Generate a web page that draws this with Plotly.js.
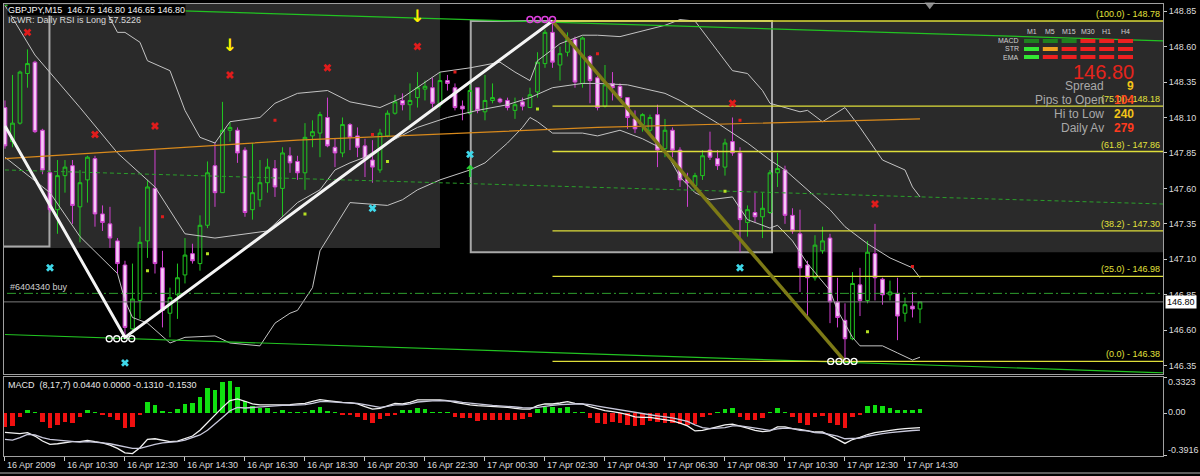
<!DOCTYPE html>
<html><head><meta charset="utf-8">
<script src="https://cdn.plot.ly/plotly-3.0.1.min.js"></script>
<style>html,body{margin:0;padding:0;background:#000;}#chart{width:1200px;height:476px;}</style>
</head><body><div id="chart"></div>
<script>
// ---------------- DATA ----------------
const symbolHeader = 'GBPJPY,M15  146.75 146.80 146.65 146.80';
const rsiHeader = 'ICWR: Daily RSI is Long 57.5226';
const macdHeader = 'MACD  (8,17,7) 0.0440 0.0000 -0.1310 -0.1530';
const orderLabel = '#6404340 buy';

const openP = [148.17,147.93,148.06,148.41,148.49,148.01,147.71,147.45,147.69,147.76,
147.47,147.66,147.81,147.42,147.35,147.23,147.06,146.61,146.81,147.23,
147.60,147.04,146.72,146.85,146.99,147.14,147.07,147.34,147.76,147.57,
148.01,148.01,147.87,147.45,147.52,147.64,147.74,147.60,147.83,147.79,
147.71,147.97,147.99,148.10,147.89,147.85,148.05,147.97,147.90,147.80,
147.73,147.97,148.13,148.22,148.19,148.24,148.30,148.31,148.19,148.36,
148.31,148.18,148.13,148.31,148.14,148.22,148.23,148.22,148.15,148.21,
148.17,148.28,148.48,148.70,148.47,148.56,148.65,148.34,148.53,148.38,
148.18,148.34,148.32,148.24,148.09,148.05,148.01,148.12,147.88,148.01,
147.87,147.67,147.62,147.69,147.87,147.81,147.75,147.93,147.85,147.36,
147.43,147.40,147.43,147.71,147.73,147.41,147.28,147.06,146.97,147.16,
147.25,146.80,146.67,146.54,146.92,146.81,147.14,146.96,146.85,146.86,
146.72,146.77,146.75];
const highP = [148.22,148.40,148.43,148.58,148.50,148.02,147.73,147.80,147.80,147.80,
147.73,147.83,147.83,147.48,147.47,147.25,147.09,147.07,147.33,147.66,
147.87,147.16,146.90,147.07,147.25,147.21,147.41,147.79,147.92,148.21,
148.07,148.03,147.89,147.92,147.80,147.81,147.80,147.89,147.89,147.83,
148.06,148.08,148.14,148.24,147.95,148.10,148.06,148.03,147.95,147.94,
148.02,148.15,148.26,148.27,148.34,148.42,148.36,148.38,148.42,148.40,
148.34,148.22,148.33,148.31,148.40,148.34,148.24,148.24,148.24,148.24,
148.31,148.56,148.72,148.78,148.60,148.70,148.67,148.67,148.54,148.41,
148.47,148.42,148.34,148.24,148.15,148.13,148.12,148.19,148.09,148.03,
147.89,147.71,147.71,147.87,148.00,147.87,147.95,148.10,147.89,147.48,
147.57,147.57,147.73,147.85,147.76,147.46,147.45,147.09,147.27,147.33,
147.28,146.97,146.79,147.01,147.04,147.23,147.35,146.97,146.95,146.97,
146.83,146.87,146.80];
const lowP = [147.88,147.89,148.05,148.31,147.99,147.70,147.43,147.28,147.57,147.35,
147.22,147.50,147.33,147.30,147.18,147.00,146.55,146.60,146.68,147.11,
147.00,146.62,146.55,146.68,146.93,147.07,147.02,147.32,147.47,147.57,
147.93,147.78,147.40,147.38,147.47,147.57,147.54,147.40,147.71,147.66,
147.59,147.89,147.82,147.89,147.75,147.82,147.87,147.82,147.68,147.64,
147.71,147.96,148.12,148.15,148.08,148.17,148.22,148.17,148.17,148.29,
148.15,148.08,148.12,148.13,148.08,148.20,148.20,148.15,148.09,148.15,
148.17,148.24,148.45,148.45,148.36,148.53,148.31,148.31,148.20,148.15,
148.17,148.22,148.22,148.02,147.99,148.00,147.99,147.75,147.82,147.82,
147.61,147.47,147.59,147.66,147.80,147.73,147.69,147.83,147.15,147.26,
147.36,147.25,147.42,147.61,147.35,147.28,146.87,146.69,146.95,147.14,
146.65,146.62,146.38,146.53,146.70,146.79,146.81,146.78,146.81,146.53,
146.66,146.69,146.65];
const closeP = [147.90,148.06,148.42,148.48,148.00,147.73,147.45,147.69,147.75,147.48,
147.64,147.82,147.42,147.36,147.25,147.07,146.62,146.82,147.22,147.61,
147.07,146.74,146.83,146.97,147.13,147.09,147.34,147.71,147.57,148.01,
148.03,147.85,147.43,147.57,147.64,147.75,147.61,147.85,147.78,147.71,
147.96,148.00,148.12,147.90,147.85,148.05,147.96,147.89,147.81,147.75,
147.99,148.13,148.21,148.19,148.22,148.31,148.32,148.20,148.36,148.34,
148.17,148.16,148.29,148.15,148.22,148.24,148.21,148.17,148.19,148.18,
148.26,148.49,148.70,148.49,148.55,148.65,148.35,148.66,148.36,148.17,
148.33,148.31,148.24,148.10,148.02,148.12,148.10,147.87,148.01,147.87,
147.66,147.64,147.69,147.83,147.82,147.76,147.92,147.85,147.38,147.45,
147.40,147.46,147.71,147.74,147.41,147.30,147.04,146.97,147.20,147.23,
146.80,146.69,146.54,146.93,146.81,147.15,146.97,146.85,146.87,146.70,
146.78,146.75,146.80];

// MACD panel
const macdHist = [-0.125,-0.116,-0.033,0.033,0.01,-0.079,-0.135,-0.107,-0.079,-0.088,
-0.033,0.033,0.01,-0.014,-0.033,-0.06,-0.135,-0.125,-0.01,0.107,
0.079,0.023,0.014,0.042,0.088,0.098,0.153,0.237,0.219,0.293,
0.30,0.246,0.116,0.07,0.051,0.051,0.014,0.033,0.014,0.01,
0.014,0.033,0.06,0.023,0.01,-0.01,-0.01,-0.033,-0.06,-0.088,
-0.051,-0.02,-0.01,0.033,0.033,0.05,0.045,0.01,0.01,0.01,
-0.03,-0.045,-0.045,-0.07,-0.06,-0.06,-0.06,-0.06,-0.06,-0.05,
-0.03,0.04,0.055,0.055,0.05,0.055,0.01,0.01,-0.045,-0.085,
-0.093,-0.075,-0.085,-0.105,-0.12,-0.11,-0.07,-0.075,-0.085,-0.085,
-0.1,-0.105,-0.093,-0.035,-0.01,0.01,0.04,0.05,-0.03,-0.06,
-0.06,-0.045,0.01,0.05,0.01,-0.03,-0.085,-0.105,-0.035,-0.02,
-0.085,-0.105,-0.13,-0.03,-0.015,0.07,0.077,0.065,0.05,0.035,
0.035,0.035,0.044];
const macdMain = [-0.174,-0.183,-0.186,-0.177,-0.208,-0.254,-0.285,-0.279,-0.270,-0.260,
-0.260,-0.248,-0.260,-0.270,-0.291,-0.322,-0.363,-0.369,-0.316,-0.239,
-0.233,-0.248,-0.260,-0.254,-0.233,-0.208,-0.155,-0.084,-0.006,0.056,
0.118,0.133,0.112,0.087,0.078,0.078,0.078,0.081,0.081,0.087,
0.093,0.112,0.127,0.118,0.109,0.102,0.099,0.087,0.062,0.040,
0.047,0.071,0.093,0.087,0.102,0.124,0.127,0.124,0.124,0.118,
0.102,0.087,0.078,0.071,0.068,0.065,0.062,0.056,0.047,0.040,
0.040,0.071,0.087,0.087,0.096,0.109,0.093,0.087,0.062,0.040,
0.025,0.016,0.006,-0.012,-0.031,-0.037,-0.037,-0.047,-0.056,-0.068,
-0.090,-0.115,-0.161,-0.155,-0.140,-0.124,-0.105,-0.099,-0.115,-0.136,
-0.155,-0.167,-0.161,-0.124,-0.124,-0.140,-0.146,-0.161,-0.171,-0.171,
-0.202,-0.239,-0.276,-0.240,-0.220,-0.194,-0.177,-0.165,-0.155,-0.147,
-0.139,-0.135,-0.131];
const macdSignal = [-0.239,-0.245,-0.223,-0.192,-0.198,-0.223,-0.239,-0.245,-0.254,-0.260,
-0.264,-0.260,-0.264,-0.270,-0.279,-0.291,-0.310,-0.322,-0.322,-0.301,
-0.285,-0.270,-0.264,-0.260,-0.245,-0.223,-0.198,-0.155,-0.099,-0.037,
0.025,0.056,0.050,0.056,0.062,0.068,0.071,0.074,0.074,0.078,
0.081,0.093,0.109,0.109,0.102,0.099,0.096,0.093,0.081,0.065,
0.056,0.065,0.078,0.078,0.087,0.105,0.112,0.115,0.118,0.118,
0.112,0.102,0.093,0.087,0.081,0.074,0.071,0.065,0.059,0.053,
0.050,0.056,0.068,0.074,0.081,0.087,0.087,0.087,0.081,0.068,
0.056,0.043,0.034,0.022,0.009,-0.003,-0.012,-0.022,-0.031,-0.040,
-0.056,-0.074,-0.105,-0.130,-0.140,-0.136,-0.130,-0.115,-0.115,-0.124,
-0.136,-0.149,-0.155,-0.143,-0.136,-0.140,-0.155,-0.161,-0.177,-0.180,
-0.192,-0.208,-0.233,-0.229,-0.227,-0.210,-0.196,-0.185,-0.176,-0.168,
-0.162,-0.157,-0.153];
const macdRangeMax = 0.3323, macdRangeMin = -0.3916;

// Bollinger bands (bar index, price)
const bbUpX = [13,15,16,18,19,22,24,26,28,30,34,36,39,43,46,50,53,55,58,62,66,68,70,71,74,77,79,82,86,88,90,92,95,97,99,101,102,106,107,109,112,114,117,120,121,122];
const bbUpY = [148.90,148.70,148.70,148.63,148.50,148.43,148.15,147.96,147.92,148.07,148.10,148.20,148.27,148.29,148.21,148.17,148.24,148.31,148.42,148.45,148.49,148.42,148.36,148.50,148.62,148.68,148.68,148.67,148.72,148.75,148.79,148.78,148.57,148.43,148.41,148.29,148.20,148.14,148.15,148.07,148.17,148.03,147.80,147.73,147.61,147.54];
const bbMidX = [0,4,10,15,20,24,28,35,39,42,44,46,48,51,55,59,63,67,70,73,77,79,83,88,90,95,99,102,104,107,110,112,115,118,121,122];
const bbMidY = [148.89,148.54,148.17,147.85,147.61,147.28,147.25,147.30,147.50,147.59,147.73,147.78,147.82,147.92,148.03,148.10,148.15,148.19,148.24,148.31,148.34,148.34,148.33,148.27,148.22,148.06,147.92,147.80,147.73,147.59,147.45,147.33,147.21,147.11,147.04,146.97];
const bbLoX = [0,6,10,15,16,17,19,22,24,28,30,34,36,38,39,41,42,44,46,51,53,55,58,62,64,67,69,70,71,73,77,79,82,85,88,90,92,94,97,99,102,103,105,107,110,111,113,114,117,119,121,122];
const bbLoY = [147.82,147.57,147.26,147.00,146.81,146.69,146.65,146.51,146.55,146.56,146.51,146.49,146.65,146.72,146.74,146.90,147.16,147.33,147.50,147.48,147.52,147.59,147.66,147.73,147.78,147.92,148.03,148.10,148.07,147.99,147.99,147.97,148.01,147.95,147.87,147.68,147.57,147.52,147.54,147.38,147.32,147.34,147.23,147.07,146.88,146.74,146.55,146.49,146.49,146.44,146.39,146.41];

// moving average / trend lines
const maX = [0,28,39,79,122], maY = [147.81,147.90,147.94,148.03,148.09];
const chanTopX = [0,154.4], chanTopY = [148.89,148.64];
const chanBotX = [0,154.4], chanBotY = [146.57,146.30];
const dashLineX = [0,154.4], dashLineY = [147.73,147.49];
const zigzagX = [0,16,73], zigzagY = [148.04,146.55,148.78];
const fibLegX = [73,112], fibLegY = [148.78,146.38];
const orderPrice = 146.86, bidPrice = 146.80;

// Fibonacci levels
const fibLevels = [100.0, 75.0, 61.8, 38.2, 25.0, 0.0];
const fibPrices = [148.78, 148.18, 147.86, 147.30, 146.98, 146.38];
const fibStart = 73;

// shaded zones & boxes [bar, price]
const zoneX0 = [-2, 62.1], zoneX1 = [58, 160], zoneY0 = [147.18, 147.15], zoneY1 = [149.5, 148.78];
const boxX0 = [-2, 62.1], boxX1 = [5.93, 102.27], boxY0 = [147.19, 147.15], boxY1 = [149.5, 148.78];

// signal markers
const cyanX = [6,16,49,62,98], cyanY = [147.04,146.37,147.46,147.84,147.04];
const redXx = [3,12,20,30,43,55,73,97,116], redXy = [148.70,147.98,148.04,148.40,148.45,148.60,148.91,148.20,147.49];
const redDotX = [21,36,49,60,79,98,121], redDotY = [147.40,148.08,147.98,148.42,148.55,148.08,147.05];
const limeDotX = [19,27,40,51,71,96,115], limeDotY = [147.02,147.14,147.42,147.79,148.16,147.58,146.59];
const sellArrowX = [30,55], sellArrowY = [148.60,148.80];
const buyArrowX = [62], buyArrowY = [147.71];
const lowRingX1 = [13.9,14.9,15.9,16.9], lowRingY1 = [146.54,146.54,146.54,146.54];
const highRingX = [70,71,72,73], highRingY = [148.79,148.79,148.79,148.79];
const lowRingX2 = [110.1,111.2,112.2,113.2], lowRingY2 = [146.38,146.38,146.38,146.38];
const shiftMarkX = [123.3], shiftMarkY = [148.895];

// axes
const priceTicks = [146.35,146.60,146.85,147.10,147.35,147.60,147.85,148.10,148.35,148.60,148.85];
const timeTickBars = [0,8,16,24,32,40,48,56,64,72,80,88,96,104,112,120];
const timeTickLabels = ['16 Apr 2009','16 Apr 10:30','16 Apr 12:30','16 Apr 14:30','16 Apr 16:30','16 Apr 18:30','16 Apr 20:30','16 Apr 22:30','17 Apr 00:30','17 Apr 02:30','17 Apr 04:30','17 Apr 06:30','17 Apr 08:30','17 Apr 10:30','17 Apr 12:30','17 Apr 14:30'];

// info panel
const timeframes = ['M1','M5','M15','M30','H1','H4'];
const panelRows = ['MACD','STR','EMA'];
const panelStates = [['dg','dg','dg','r','r','r'],['g','o','r','r','r','r'],['g','r','r','r','r','r']];
const infoLabels = ['Spread','Pips to Open','Hi to Low','Daily Av'];
const infoValues = ['9','104','240','279'];
const infoValueColors = ['#f2c418','#ff4a1e','#f2c418','#ff3a1e'];
const bidText = '146.80';

// ---------------- DRAW ----------------
const FONT = 'Liberation Sans, Arial, sans-serif';
const X0 = 4, X1 = 1163, Y0 = 4, Y1 = 456;
const pxX = x => (x - X0) / (X1 - X0);
const pxY = y => (Y1 - y) / (Y1 - Y0);
const bars = openP.map((_, i) => i);

function line(x, y, color, width, dash, axis) {
  return {type:'scatter', mode:'lines', x, y, line:{color, width, dash: dash || 'solid'},
    xaxis: axis ? 'x2' : 'x', yaxis: axis ? 'y2' : 'y', hoverinfo:'skip', showlegend:false};
}
function marks(x, y, symbol, size, color, lineColor, lw) {
  return {type:'scatter', mode:'markers', x, y, hoverinfo:'skip', showlegend:false,
    marker:{symbol, size, color, line:{color: lineColor || color, width: lw || 0}}};
}

const traces = [];
traces.push(line(bbUpX, bbUpY, '#c4c4c4', 1));
traces.push(line(bbMidX, bbMidY, '#c4c4c4', 1));
traces.push(line(bbLoX, bbLoY, '#c4c4c4', 1));
traces.push(line(maX, maY, '#d98a1c', 1.2));
traces.push(line(chanTopX, chanTopY, '#22c322', 1.2));
traces.push(line(chanBotX, chanBotY, '#22c322', 1.2));
traces.push(line(dashLineX, dashLineY, '#2a9e2a', 1, '4px,3px'));
traces.push(line([-2, 160], [orderPrice, orderPrice], '#2e9e2e', 1, '9px,3px,2px,3px'));
traces.push(line([-2, 160], [bidPrice, bidPrice], '#7c7c7c', 1));
fibPrices.forEach(p => traces.push(line([fibStart, 160], [p, p], '#dede3a', 1.3)));

traces.push({type:'candlestick', x: bars, open: openP, high: highP, low: lowP, close: closeP,
  xaxis:'x', yaxis:'y', hoverinfo:'skip', showlegend:false, whiskerwidth:0,
  increasing:{line:{color:'#20c820', width:1}, fillcolor:'rgba(0,0,0,0)'},
  decreasing:{line:{color:'#d040d0', width:1}, fillcolor:'#f7c9f7'}});

traces.push(line(zigzagX, zigzagY, '#f4f4f4', 3));
traces.push(line(fibLegX, fibLegY, '#7d7a16', 3.5));

traces.push(marks(cyanX, cyanY, 'x', 7, '#3fd8ea'));
traces.push(marks(redXx, redXy, 'x', 7, '#e01c1c'));
traces.push(marks(redDotX, redDotY, 'square', 3, '#e01c1c'));
traces.push(marks(limeDotX, limeDotY, 'square', 3, '#b6e022'));
traces.push(marks(lowRingX1, lowRingY1, 'circle-open', 6, '#ffffff', '#ffffff', 1.3));
traces.push(marks(highRingX, highRingY, 'circle-open', 6, '#e040e0', '#e040e0', 1.5));
traces.push(marks(lowRingX2, lowRingY2, 'circle-open', 6, '#ffffff', '#ffffff', 1.3));
traces.push({type:'scatter', mode:'text', x: sellArrowX, y: sellArrowY, text: sellArrowX.map(() => '↓'),
  textfont:{family:'DejaVu Sans', size:17, color:'#ffee00', weight:'bold'}, hoverinfo:'skip', showlegend:false});
traces.push({type:'scatter', mode:'text', x: buyArrowX, y: buyArrowY, text: buyArrowX.map(() => '↑'),
  textfont:{family:'DejaVu Sans', size:16, color:'#2fd02f', weight:'bold'}, hoverinfo:'skip', showlegend:false});
const shiftTr = marks(shiftMarkX, shiftMarkY, 'triangle-down', 9, '#8c8c8c');
shiftTr.cliponaxis = false;
traces.push(shiftTr);

// MACD panel
traces.push({type:'bar', x: bars, y: macdHist, xaxis:'x2', yaxis:'y2', width:0.62,
  marker:{color: macdHist.map(v => v >= 0 ? '#10e010' : '#f01010'), line:{width:0}},
  hoverinfo:'skip', showlegend:false});
traces.push(line(bars, macdMain, '#f2f2f2', 1.3, null, true));
traces.push(line(bars, macdSignal, '#c9c9dc', 1.3, null, true));

// shapes
const shapes = [];
zoneX0.forEach((_, k) => shapes.push({type:'rect', xref:'x', yref:'y', layer:'below',
  x0: zoneX0[k], x1: zoneX1[k], y0: zoneY0[k], y1: zoneY1[k], fillcolor:'#2a2a2a', line:{width:0}}));
boxX0.forEach((_, k) => shapes.push({type:'rect', xref:'x', yref:'y', layer:'below',
  x0: boxX0[k], x1: boxX1[k], y0: boxY0[k], y1: boxY1[k], fillcolor:'rgba(0,0,0,0)', line:{color:'#a8a8a8', width:2}}));
const stateColor = {dg:'#1f801f', g:'#33e833', o:'#f0a020', r:'#ee2020'};
panelStates.forEach((row, r) => row.forEach((s, c) => {
  const x0 = 1024 + 18.8 * c, y0 = 39 + 8 * r;
  shapes.push({type:'rect', xref:'paper', yref:'paper', x0: pxX(x0), x1: pxX(x0 + 15),
    y0: pxY(y0 + 4), y1: pxY(y0), fillcolor: stateColor[s], line:{width:0}});
}));
shapes.push({type:'line', xref:'paper', yref:'paper', x0: -0.01, x1: 1.04, y0: pxY(473), y1: pxY(473), line:{color:'#b8b8b8', width:1}});

// annotations
const ann = [];
function txt(text, x, y, o) {
  o = o || {};
  ann.push({xref:'paper', yref:'paper', x: pxX(x), y: pxY(y), text, showarrow:false,
    xanchor: o.xa || 'left', yanchor: o.ya || 'middle', borderpad: 0,
    bgcolor: o.bg || 'rgba(0,0,0,0)',
    font:{family: o.family || FONT, size: o.size || 9, color: o.color || '#dcdcdc', weight: o.weight || 'normal'}});
}
txt(symbolHeader, 7, 10, {color:'#f4f4f4', bg:'#000000'});
txt(rsiHeader, 7, 20, {color:'#d8d8d8'});
txt(orderLabel, 9, 287, {color:'#cfcfcf'});
txt(macdHeader, 7, 385, {color:'#e8e8e8'});
fibLevels.forEach((lv, k) => ann.push({xref:'paper', yref:'y', x: pxX(1161), y: fibPrices[k],
  text: '(' + lv.toFixed(1) + ') - ' + fibPrices[k].toFixed(2), showarrow:false, xanchor:'right', yanchor:'bottom',
  borderpad:0, yshift:1, font:{family:FONT, size:9, color:'#e2e23c'}}));
timeTickBars.forEach((b, k) => ann.push({xref:'x2', yref:'paper', x: b, y: 0, xshift: 1, yshift: -3,
  text: timeTickLabels[k], showarrow:false, xanchor:'left', yanchor:'top', borderpad:0,
  font:{family:FONT, size:9, color:'#dcdcdc'}}));
txt('0.3323', 1167, 382, {color:'#dcdcdc'});
txt('0.00', 1167, 412, {color:'#dcdcdc'});
txt('-0.3916', 1167, 450, {color:'#dcdcdc'});
ann.push({xref:'paper', yref:'y', x: pxX(1165), y: bidPrice, text: bidText, showarrow:false, xanchor:'left',
  yanchor:'middle', bgcolor:'#ffffff', borderpad:1, font:{family:FONT, size:9, color:'#000000'}});
// info panel
timeframes.forEach((t, c) => txt(t, 1024 + 18.8 * c + 7.5, 31, {xa:'center', size:7, color:'#d0d0d0'}));
panelRows.forEach((t, r) => txt(t, 1020, 41 + 8 * r, {xa:'right', size:7, color:'#d0d0d0'}));
txt(bidText, 1135, 72, {xa:'right', size:20, color:'#e4241c'});
infoLabels.forEach((t, k) => {
  txt(t, 1105, 86 + 14 * k, {xa:'right', size:12, color:'#a9a9a9'});
  txt(infoValues[k], 1135, 86 + 14 * k, {xa:'right', size:12, color: infoValueColors[k], weight:'bold'});
});

const axisLine = '#a0a0a0';
const layout = {
  width:1200, height:476, paper_bgcolor:'#000000', plot_bgcolor:'#000000',
  margin:{l:X0, r:1200 - X1, t:Y0, b:476 - Y1}, showlegend:false, bargap:0,
  xaxis:{domain:[0,1], range:[-0.13, 154.4], anchor:'y', showgrid:false, zeroline:false,
    showticklabels:false, ticks:'', showline:true, mirror:true, linecolor:axisLine, linewidth:1,
    rangeslider:{visible:false}, fixedrange:true},
  yaxis:{domain:[0.1825,1], range:[146.295, 148.90], anchor:'x', side:'right', showgrid:false, zeroline:false,
    tickvals: priceTicks, ticktext: priceTicks.map(v => v.toFixed(2)), ticks:'outside', ticklen:3,
    tickcolor:'#c8c8c8', tickfont:{family:FONT, size:9, color:'#dcdcdc'}, showline:true, mirror:true,
    linecolor:axisLine, linewidth:1},
  xaxis2:{domain:[0,1], range:[-0.13, 154.4], anchor:'y2', showgrid:false, zeroline:false,
    tickvals: timeTickBars, showticklabels:false, ticks:'outside', ticklen:4, tickcolor:'#c8c8c8',
    showline:true, mirror:true, linecolor:axisLine, linewidth:1},
  yaxis2:{domain:[0, 0.1741], range:[macdRangeMin, macdRangeMax], anchor:'x2', side:'right', showgrid:false,
    zeroline:false, tickvals:[macdRangeMin, 0, macdRangeMax], showticklabels:false, ticks:'outside', ticklen:3,
    tickcolor:'#c8c8c8', showline:true, mirror:true, linecolor:axisLine, linewidth:1},
  shapes, annotations: ann
};
Plotly.newPlot('chart', traces, layout, {staticPlot:true, displayModeBar:false});
</script></body></html>
